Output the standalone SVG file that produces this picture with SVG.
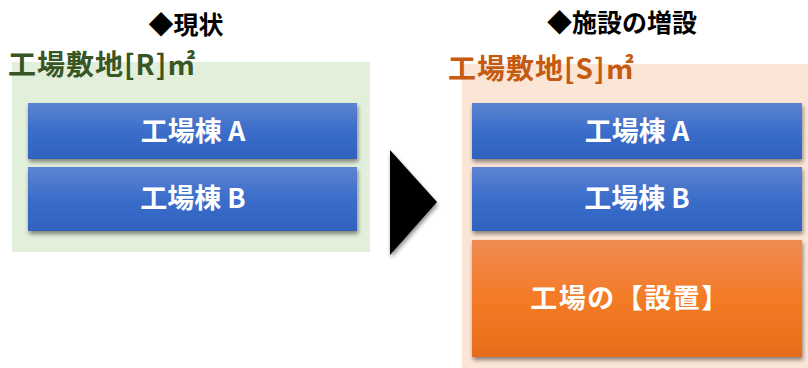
<svg xmlns="http://www.w3.org/2000/svg" width="808" height="368" viewBox="0 0 808 368">
<style>
.t{font-family:"Noto Sans CJK JP","Noto Sans",sans-serif;font-weight:bold}
.w{fill:#fff;font-size:27px;text-anchor:middle}
.h{fill:#000;font-size:25px;text-anchor:middle}
.s{font-size:28px;letter-spacing:1px}
</style>
<defs>
<linearGradient id="gb" x1="0" y1="0" x2="0" y2="1">
<stop offset="0" stop-color="#5d84cf"/><stop offset="0.5" stop-color="#3b6dcb"/><stop offset="1" stop-color="#2f62be"/>
</linearGradient>
<linearGradient id="go" x1="0" y1="0" x2="0" y2="1">
<stop offset="0" stop-color="#f08b54"/><stop offset="0.5" stop-color="#f47b26"/><stop offset="1" stop-color="#e66c1a"/>
</linearGradient>
<filter id="sh" x="-10%" y="-20%" width="120%" height="150%">
<feGaussianBlur in="SourceAlpha" stdDeviation="2"/>
<feOffset dx="1" dy="3" result="b"/>
<feComponentTransfer><feFuncA type="linear" slope="0.45"/></feComponentTransfer>
<feMerge><feMergeNode/><feMergeNode in="SourceGraphic"/></feMerge>
</filter>
</defs>
<g id="left-area">
<rect x="12" y="62" width="358" height="190" fill="#e2efda"/>
<text class="t h" x="186" y="34">◆現状</text>
<text class="t s" x="8" y="75" fill="#375623">工場敷地[R]㎡</text>
</g>
<g id="left-a"><rect x="28" y="103" width="329" height="56" fill="url(#gb)" filter="url(#sh)"/><text class="t w" x="193" y="141">工場棟 A</text></g>
<g id="left-b"><rect x="28" y="167" width="329" height="64" fill="url(#gb)" filter="url(#sh)"/><text class="t w" x="193" y="208">工場棟 B</text></g>
<g id="connectors"><polygon points="390,150 437,202 390,255" fill="#000" filter="url(#sh)"/></g>
<g id="right-area">
<rect x="462" y="64" width="346" height="304" fill="#fbe5d6"/>
<text class="t h" x="622" y="32">◆施設の増設</text>
<text class="t s" x="448" y="79" fill="#c55a11">工場敷地[S]㎡</text>
</g>
<g id="right-a"><rect x="472" y="103" width="330" height="56" fill="url(#gb)" filter="url(#sh)"/><text class="t w" x="637" y="141">工場棟 A</text></g>
<g id="right-b"><rect x="472" y="167" width="330" height="64" fill="url(#gb)" filter="url(#sh)"/><text class="t w" x="637" y="208">工場棟 B</text></g>
<g id="right-c"><rect x="472" y="240" width="330" height="117" fill="url(#go)" filter="url(#sh)"/><text class="t w" x="630" y="308" letter-spacing="1.5">工場の【設置】</text></g>
</svg>
